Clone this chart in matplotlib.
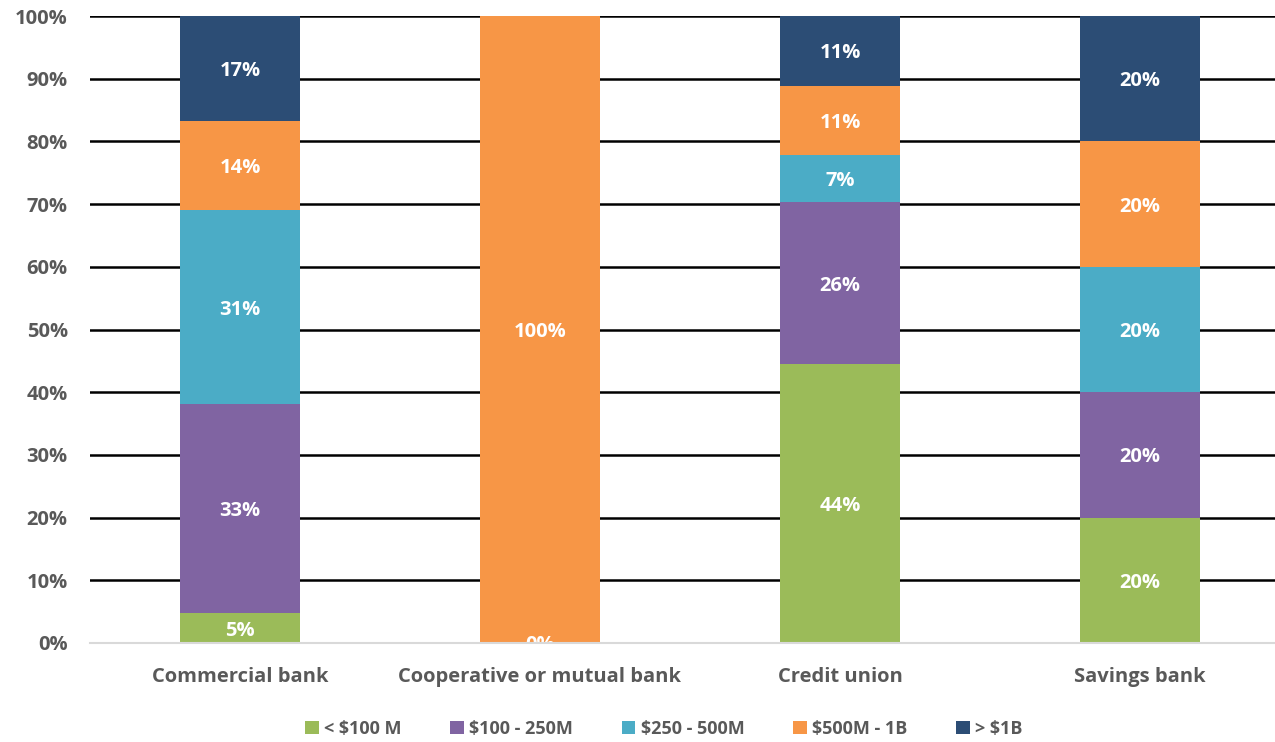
import matplotlib.pyplot as plt
import numpy as np

plt.rcParams["font.family"] = ["Open Sans", "DejaVu Sans"]

categories = ["Commercial bank", "Cooperative or mutual bank", "Credit union", "Savings bank"]
series_names = ["< $100 M", "$100 - 250M", "$250 - 500M", "$500M - 1B", "> $1B"]
# share of each asset-size band per institution type (%)
lt_100m = [4.76, 0.0, 44.44, 20.0]
m100_250 = [33.33, 0.0, 25.93, 20.0]
m250_500 = [30.95, 0.0, 7.41, 20.0]
m500_1b = [14.29, 100.0, 11.11, 20.0]
gt_1b = [16.67, 0.0, 11.11, 20.0]
colors = ["#9BBB59", "#8064A2", "#4BACC6", "#F79646", "#2C4D75"]

series = [lt_100m, m100_250, m250_500, m500_1b, gt_1b]

fig = plt.figure(figsize=(12.75, 7.42), dpi=100)
ax = fig.add_axes([90 / 1275, 1 - 643 / 742, 1 - 90 / 1275, (643 - 16) / 742])

x = np.arange(len(categories))
bottom = np.zeros(len(categories))
for name, vals, col in zip(series_names, series, colors):
    vals = np.array(vals)
    ax.bar(x, vals, 0.4, bottom=bottom, color=col, label=name, zorder=2)
    for xi, v, b in zip(x, vals, bottom):
        if v > 0:
            ax.text(xi, b + v / 2, f"{v:.0f}%", ha="center", va="center_baseline",
                    color="white", fontsize=14.5, fontweight="bold", zorder=3)
    bottom += vals

# zero label that Excel leaves sitting on the baseline
ax.text(1, 0, "0%", ha="center", va="center_baseline", color="white", fontsize=14.5,
        fontweight="bold", zorder=3, clip_on=True)

ax.set_xlim(-0.5, 3.45)
ax.set_ylim(0, 100)
ax.set_yticks(np.arange(0, 101, 10))
ax.set_yticklabels([f"{t}%" for t in range(0, 101, 10)])
ax.yaxis.grid(True, color="black", linewidth=1.8, zorder=1)
ax.set_axisbelow(True)
ax.set_xticks(x)
ax.set_xticklabels(categories)
ax.tick_params(axis="both", length=0, labelsize=14.5, colors="#595959")
ax.tick_params(axis="x", pad=17)
ax.tick_params(axis="y", pad=16)
for lbl in ax.get_xticklabels() + ax.get_yticklabels():
    lbl.set_fontweight("bold")
for s in ["top", "right", "left"]:
    ax.spines[s].set_visible(False)
ax.spines["bottom"].set_color("#D9D9D9")
ax.spines["bottom"].set_linewidth(1.5)
ax.spines["bottom"].set_zorder(4)

leg = fig.legend(loc="center", bbox_to_anchor=(664 / 1275, 1 - 729 / 742), ncol=5,
                 frameon=False, fontsize=13, handlelength=0.75, handleheight=0.75,
                 handletextpad=0.3, columnspacing=2.7)
for t in leg.get_texts():
    t.set_color("#595959")
    t.set_fontweight("bold")

fig.savefig("out.png", dpi=100)
